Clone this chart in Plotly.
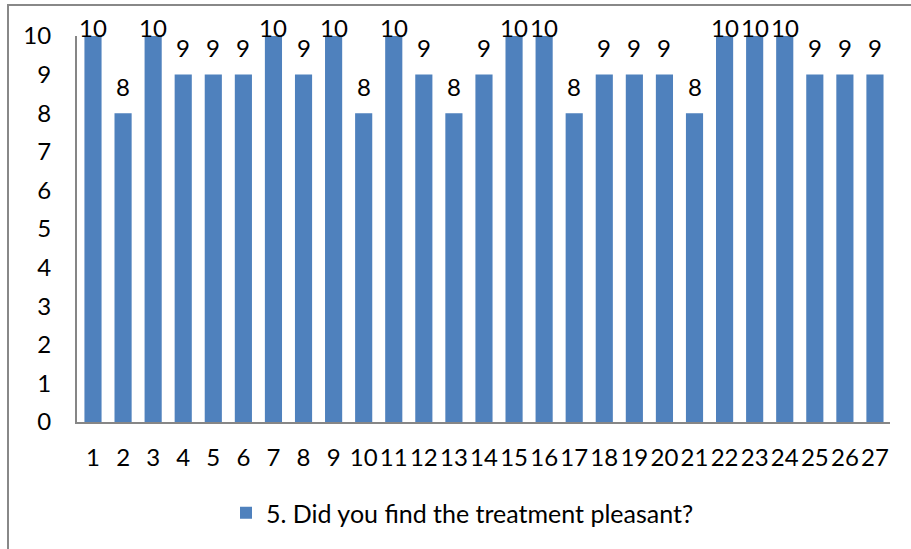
import plotly.graph_objects as go

categories = [str(i) for i in range(1, 28)]
values = [10, 8, 10, 9, 9, 9, 10, 9, 10, 8, 10, 9, 8, 9, 10, 10, 8, 9, 9, 9, 8, 10, 10, 10, 9, 9, 9]
series_name = "5. Did you find the treatment pleasant?"
y_ticks = list(range(0, 11))

FONT = "Lato, Carlito, 'Open Sans', sans-serif"
FS = 24

fig = go.Figure()
fig.add_trace(go.Bar(
    x=categories, y=values, name=series_name,
    marker=dict(color="#4F81BD", line=dict(width=0)),
    cliponaxis=False,
))

ymax = 10
annotations = []
for i, v in enumerate(values):
    annotations.append(dict(
        x=i, y=v, xref="x", yref="y", text=str(v), showarrow=False,
        yanchor="middle", yshift=9 if v >= ymax else 27,
        font=dict(family=FONT, size=FS, color="black"),
    ))

W, H = 911, 549
L, R, T, B = 77, 21, 36, 127
pw = W - L - R
ph = H - T - B

fig.update_layout(
    width=W, height=H,
    margin=dict(l=L, r=R, t=T, b=B, autoexpand=False),
    paper_bgcolor="white", plot_bgcolor="white",
    bargap=0.43,
    font=dict(family=FONT, size=FS, color="black"),
    showlegend=True,
    legend=dict(orientation="h", x=226 / W, xref="container", xanchor="left",
                y=1 - 513 / H, yref="container", yanchor="middle",
                font=dict(family=FONT, size=25, color="black"),
                itemwidth=30),
    xaxis=dict(type="category", showline=True, linecolor="#868686", linewidth=2,
               ticks="", showgrid=False, ticklabelstandoff=13, automargin=False,
               tickangle=0, tickfont=dict(family=FONT, size=FS)),
    yaxis=dict(range=[0, ymax], tickvals=y_ticks, showline=True, linecolor="#868686",
               linewidth=2, ticks="", showgrid=False, zeroline=False, automargin=False,
               ticklabelstandoff=19, tickfont=dict(family=FONT, size=FS)),
    annotations=annotations,
    shapes=[dict(type="rect", xref="paper", yref="paper",
                 x0=(8 - L) / pw, x1=1.2, y0=-0.6, y1=(H - B - 5) / ph,
                 line=dict(color="#888888", width=2), fillcolor="rgba(0,0,0,0)",
                 layer="below")],
)

fig.write_html("out.html", config={"displayModeBar": False},
               post_script="document.body.style.margin='0';")
